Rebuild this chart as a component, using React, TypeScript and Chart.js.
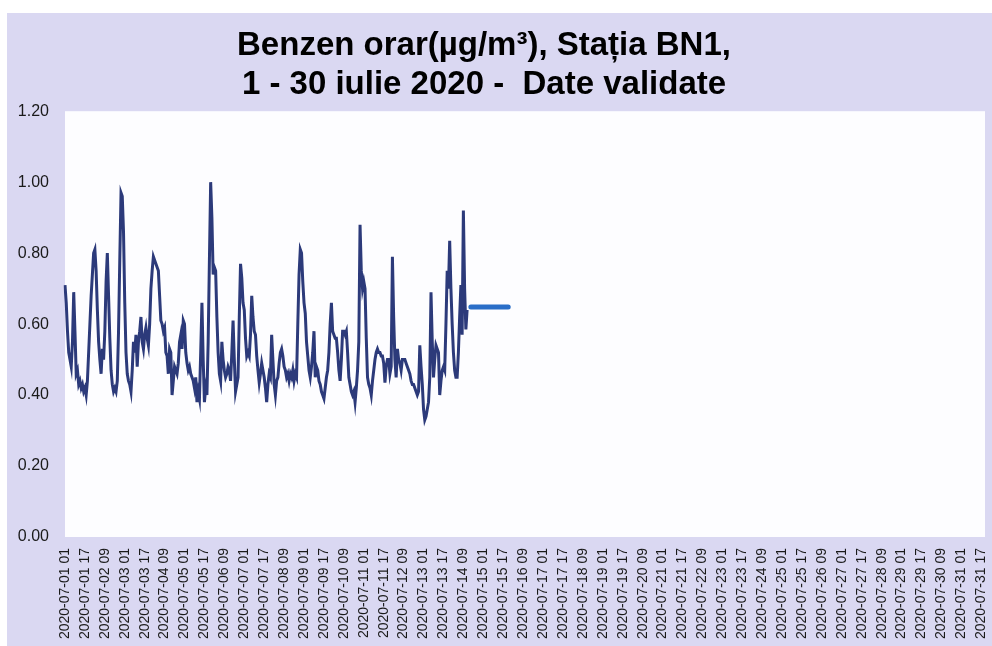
import React, { useEffect, useRef } from "react";
import { Chart, registerables } from "chart.js";

Chart.register(...registerables);

// Hourly categories: 2020-07-DD HH (hours 01..24), July 1 01 through July 31 20
const DAYS = Array.from({ length: 31 }, (_, i) => String(i + 1).padStart(2, "0"));
const HOURS = Array.from({ length: 24 }, (_, i) => String(i + 1).padStart(2, "0"));
const hourLabels: string[] = [];
for (const d of DAYS) for (const h of HOURS) hourLabels.push(`2020-07-${d} ${h}`);
const categories = hourLabels.slice(0, 740);

// Label shown every 16 hours
const LABEL_STEP = 16;

// Y axis ticks
const yTicks = [0, 0.2, 0.4, 0.6, 0.8, 1.0, 1.2];

// Benzene hourly values (µg/m³)
const day01 = [0.71, 0.66, 0.58, 0.52, 0.5, 0.48, 0.55, 0.69, 0.58, 0.46, 0.47, 0.43, 0.44, 0.42, 0.43, 0.41, 0.42, 0.4, 0.44, 0.52, 0.6, 0.68, 0.74, 0.8];
const day02 = [0.81, 0.75, 0.64, 0.55, 0.5, 0.46, 0.53, 0.5, 0.58, 0.72, 0.8, 0.68, 0.56, 0.47, 0.43, 0.41, 0.42, 0.41, 0.44, 0.58, 0.78, 0.97, 0.96, 0.86];
const day03 = [0.66, 0.52, 0.46, 0.44, 0.43, 0.41, 0.47, 0.55, 0.52, 0.57, 0.48, 0.55, 0.58, 0.62, 0.55, 0.53, 0.57, 0.59, 0.56, 0.54, 0.6, 0.7, 0.75, 0.79];
const day04 = [0.78, 0.77, 0.76, 0.75, 0.68, 0.61, 0.6, 0.58, 0.59, 0.52, 0.51, 0.46, 0.53, 0.52, 0.4, 0.44, 0.48, 0.47, 0.46, 0.49, 0.55, 0.57, 0.53, 0.61];
const day05 = [0.6, 0.52, 0.49, 0.47, 0.48, 0.46, 0.45, 0.44, 0.42, 0.45, 0.38, 0.41, 0.39, 0.52, 0.66, 0.5, 0.38, 0.42, 0.4, 0.55, 0.78, 1.0, 0.9, 0.74];
const day06 = [0.76, 0.75, 0.62, 0.52, 0.46, 0.44, 0.55, 0.5, 0.47, 0.45, 0.46, 0.48, 0.47, 0.44, 0.52, 0.61, 0.5, 0.41, 0.43, 0.45, 0.62, 0.77, 0.73, 0.66];
const day07 = [0.64, 0.56, 0.51, 0.52, 0.51, 0.57, 0.68, 0.62, 0.58, 0.57, 0.51, 0.47, 0.435, 0.46, 0.49, 0.47, 0.45, 0.42, 0.38, 0.43, 0.46, 0.45, 0.57, 0.5];
const day08 = [0.43, 0.4, 0.44, 0.45, 0.49, 0.52, 0.53, 0.51, 0.48, 0.47, 0.45, 0.46, 0.44, 0.46, 0.45, 0.47, 0.44, 0.46, 0.45, 0.6, 0.74, 0.81, 0.8, 0.72];
const day09 = [0.66, 0.63, 0.55, 0.51, 0.47, 0.45, 0.48, 0.52, 0.58, 0.45, 0.48, 0.47, 0.44, 0.43, 0.41, 0.4, 0.39, 0.42, 0.45, 0.47, 0.52, 0.6, 0.66, 0.58];
const day10 = [0.57, 0.56, 0.56, 0.52, 0.47, 0.44, 0.5, 0.58, 0.58, 0.57, 0.58, 0.52, 0.45, 0.43, 0.41, 0.4, 0.41, 0.38, 0.42, 0.47, 0.55, 0.88, 0.75, 0.7];
const day11 = [0.72, 0.7, 0.56, 0.45, 0.43, 0.42, 0.4, 0.44, 0.47, 0.5, 0.52, 0.53, 0.52, 0.52, 0.51, 0.51, 0.49, 0.435, 0.48, 0.5, 0.5, 0.46, 0.48, 0.79];
const day12 = [0.62, 0.5, 0.45, 0.53, 0.5, 0.49, 0.47, 0.5, 0.5, 0.5, 0.49, 0.48, 0.47, 0.46, 0.44, 0.43, 0.43, 0.42, 0.41, 0.4, 0.41, 0.54, 0.48, 0.43];
const day13 = [0.36, 0.33, 0.34, 0.36, 0.38, 0.45, 0.69, 0.55, 0.45, 0.5, 0.54, 0.53, 0.52, 0.4, 0.44, 0.47, 0.48, 0.47, 0.6, 0.75, 0.7, 0.835, 0.7, 0.6];
const day14 = [0.52, 0.47, 0.45, 0.45, 0.52, 0.62, 0.71, 0.57, 0.92, 0.7, 0.585, 0.64];

const benzenValues = [
  ...day01, ...day02, ...day03, ...day04, ...day05, ...day06, ...day07,
  ...day08, ...day09, ...day10, ...day11, ...day12, ...day13, ...day14,
];

// Short light-blue segment after the last measurement
const markerStartIndex = 326;
const markerValues = [
  0.648, 0.648, 0.648, 0.648, 0.648, 0.648, 0.648, 0.648, 0.648, 0.648, 0.648,
  0.648, 0.648, 0.648, 0.648, 0.648, 0.648, 0.648, 0.648, 0.648, 0.648, 0.648,
  0.648, 0.648, 0.648, 0.648, 0.648, 0.648, 0.648, 0.648, 0.648,
];

const FONT = "'Liberation Sans', Arial, Helvetica, sans-serif";

export default function App() {
  const ref = useRef<HTMLCanvasElement | null>(null);

  useEffect(() => {
    if (!ref.current) return;
    const markerData: (number | null)[] = [
      ...new Array(markerStartIndex).fill(null),
      ...markerValues,
    ];

    const plotBg = {
      id: "plotBg",
      afterLayout(chart: any) {
        const tb = chart.titleBlock;
        if (tb) {
          tb.left -= 24;
          tb.right -= 0;
        }
      },
      beforeDraw(chart: any) {
        const { ctx, chartArea } = chart;
        if (!chartArea) return;
        ctx.save();
        ctx.fillStyle = "#fdfdff";
        ctx.fillRect(chartArea.left, chartArea.top, chartArea.right - chartArea.left, chartArea.bottom - chartArea.top);
        ctx.restore();
      },
    };

    const chart = new Chart(ref.current, {
      type: "line",
      data: {
        labels: categories,
        datasets: [
          {
            label: "Benzen",
            data: benzenValues,
            borderColor: "#2c3a7a",
            borderWidth: 3,
            pointRadius: 0,
            tension: 0,
            fill: false,
          },
          {
            label: "marker",
            data: markerData,
            borderColor: "#2a6ec8",
            borderWidth: 5,
            borderCapStyle: "round",
            pointRadius: 0,
            tension: 0,
            fill: false,
          },
        ],
      },
      options: {
        animation: false,
        responsive: false,
        maintainAspectRatio: false,
        layout: { padding: { left: 0, right: 7, top: 0, bottom: 0 } },
        plugins: {
          legend: { display: false },
          tooltip: { enabled: false },
          title: {
            display: true,
            text: ["Benzen orar(µg/m³), Stația BN1,", "1 - 30 iulie 2020 -  Date validate"],
            color: "#000",
            font: { family: FONT, size: 33, weight: "bold", lineHeight: 1.2 },
            padding: { top: 13, bottom: 6 },
          },
        },
        scales: {
          x: {
            type: "category",
            offset: false,
            grid: { display: false, drawTicks: false },
            border: { display: false },
            afterFit: (s: any) => {
              s.height = 109;
              s.paddingLeft = 0;
              s.paddingRight = 0;
            },
            ticks: {
              autoSkip: false,
              minRotation: 90,
              maxRotation: 90,
              padding: 11,
              color: "#1a1a1a",
              font: { family: FONT, size: 14 },
              callback: (_v: any, i: number) => (i % LABEL_STEP === 0 ? categories[i] : ""),
            },
          },
          y: {
            min: 0,
            max: 1.2,
            grid: { display: false, drawTicks: false },
            border: { display: false },
            afterFit: (s: any) => {
              s.width = 58;
              s.paddingTop = 0;
              s.paddingBottom = 0;
            },
            afterBuildTicks: (s: any) => {
              s.ticks = yTicks.map((v) => ({ value: v }));
            },
            ticks: {
              padding: 16,
              color: "#1a1a1a",
              font: { family: FONT, size: 16 },
              callback: (v: any) => Number(v).toFixed(2),
            },
          },
        },
      },
      plugins: [plotBg],
    });
    return () => chart.destroy();
  }, []);

  return (
    <div
      style={{
        position: "absolute",
        left: 7,
        top: 13,
        width: 985,
        height: 633,
        background: "#dad8f2",
      }}
    >
      <canvas ref={ref} width={985} height={633} style={{ display: "block" }} />
    </div>
  );
}
